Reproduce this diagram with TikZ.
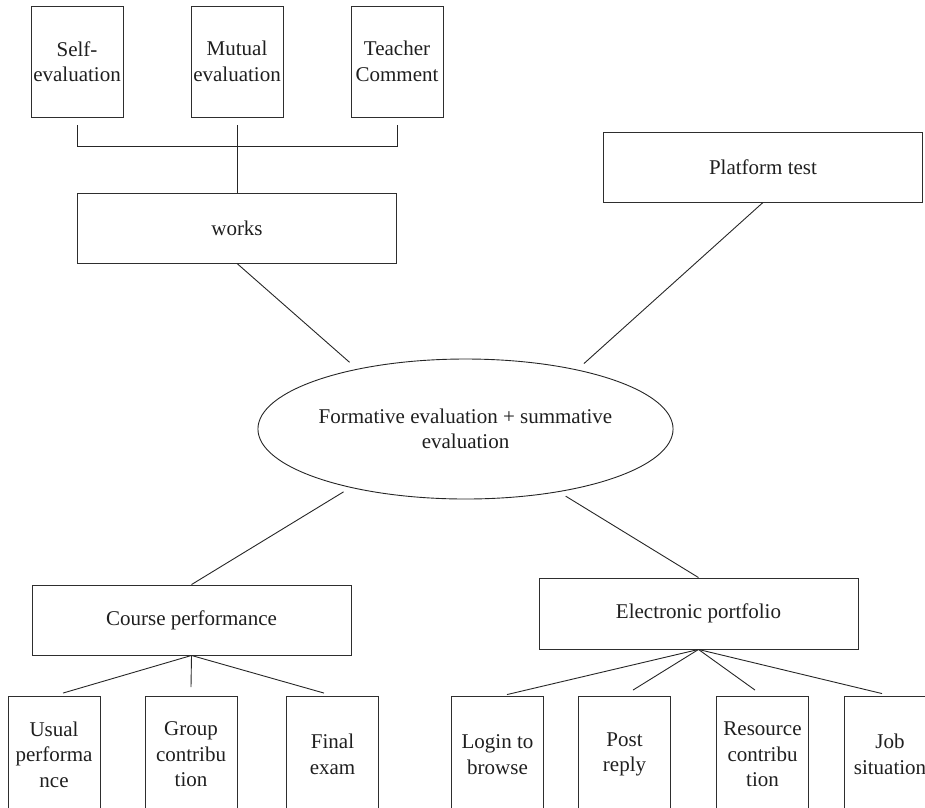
\documentclass[tikz,border=0pt]{standalone}
\usepackage{fontspec}
\setmainfont{Liberation Serif}
\usetikzlibrary{shapes.geometric}
\begin{document}
\begin{tikzpicture}[x=1pt,y=-1pt,line width=0.9pt,
    every node/.style={font=\fontsize{21}{25.5}\selectfont,text=black!88,align=center},
    tallbox/.style={draw=black!82,minimum width=92pt,minimum height=111pt,inner sep=1pt},
    lowbox/.style={tallbox,minimum height=116pt},
    widebox/.style={draw=black!82,minimum width=319pt,minimum height=70pt},
    link/.style={draw=black!85}]
    \clip (0,0) rectangle (925,807);

    \node[tallbox] (self) at (77,61.5) {Self-\\evaluation};
    \node[tallbox] (mutual) at (237,61.5) {Mutual\\evaluation};
    \node[tallbox] (teacher) at (397,61.5) {Teacher\\Comment};
    \node[widebox] (works) at (237,228) {works};
    \node[widebox] (platform) at (763,167) {Platform test};
    \node[draw=black!85,ellipse,minimum width=413pt,minimum height=140pt,inner sep=0pt]
        (eval) at (465.5,429) {Formative evaluation + summative\\evaluation};
    \node[widebox] (course) at (191.5,620) {Course performance};
    \node[widebox,minimum height=71pt] (portfolio) at (698.5,613.5) {Electronic portfolio};

    \node[lowbox] (usual) at (54,754.5) {Usual\\performa\\nce};
    \node[lowbox] (group) at (191,754.5) {Group\\contribu\\tion};
    \node[lowbox] (final) at (332.5,754.5) {Final\\exam};
    \node[lowbox] (login) at (497.5,754.5) {Login to\\browse};
    \node[lowbox] (post) at (624.5,754.5) {Post\\reply};
    \node[lowbox] (resource) at (762.5,754.5) {Resource\\contribu\\tion};
    \node[lowbox] (job) at (890,754.5) {Job\\situation};

    \draw[link] ([yshift=-8pt]self.south) -- ++(0,21) -| ([yshift=-8pt]teacher.south);
    \draw[link] ([yshift=-8pt]mutual.south) -- (works.north);

    \draw[link,shorten >=10pt] (works.south) -- (eval.151);
    \draw[link,shorten >=9pt] (platform.south) -- (eval.28);
    \draw[link,shorten <=8pt] (eval.207) -- (course.north);
    \draw[link,shorten <=8pt] (eval.326) -- (portfolio.north);

    \draw[link] (course.south) -- ([xshift=9pt,yshift=3pt]usual.north);
    \draw[link] (course.south) -- ([yshift=9pt]group.north);
    \draw[link] (course.south) -- ([xshift=-8.5pt,yshift=3pt]final.north);

    \draw[link] (portfolio.south) -- ([xshift=9.5pt,yshift=1.5pt]login.north);
    \draw[link] (portfolio.south) -- ([xshift=8.5pt,yshift=6pt]post.north);
    \draw[link] (portfolio.south) -- ([xshift=-7.5pt,yshift=6pt]resource.north);
    \draw[link] (portfolio.south) -- ([xshift=-8pt,yshift=2.5pt]job.north);
\end{tikzpicture}
\end{document}
